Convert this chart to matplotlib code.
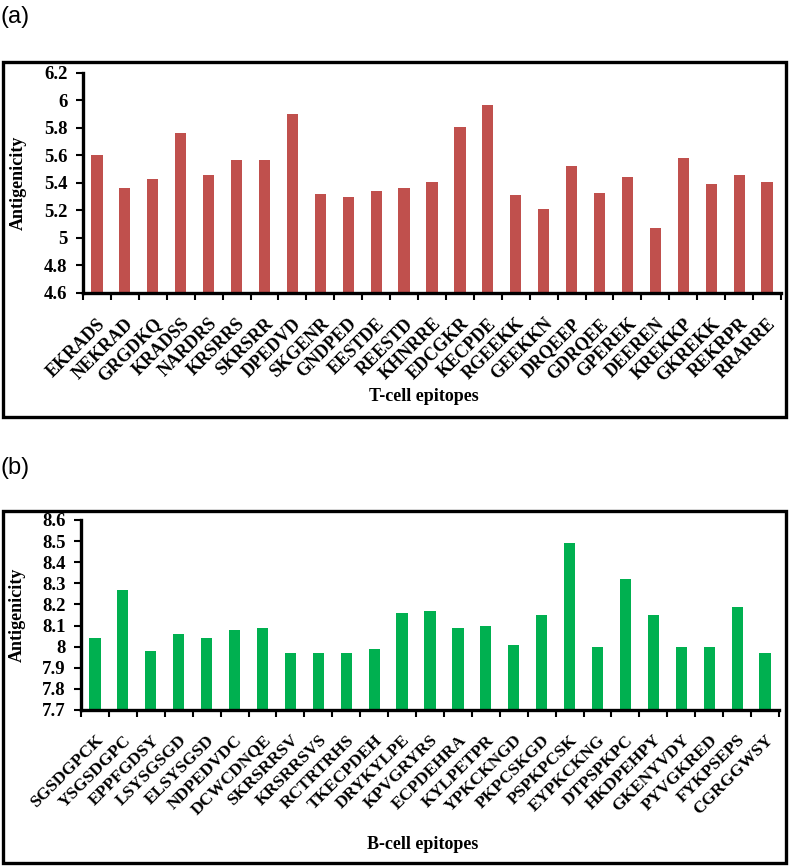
import numpy as np
import matplotlib.pyplot as plt
from matplotlib.patches import Rectangle

# T-cell epitopes (panel a)
t_epitopes = ["EKRADS", "NEKRAD", "GRGDKQ", "KRADSS", "NARDRS", "KRSRRS", "SKRSRR",
              "DPEDVD", "SKGENR", "GNDPED", "EESTDE", "REESTD", "KHNRRE", "EDCGKR",
              "KECPDE", "RGEEKK", "GEEKKN", "DRQEEP", "GDRQEE", "GPEREK", "DEEREN",
              "KREKKP", "GKREKK", "REKRPR", "RRARRE"]
t_values = [5.60, 5.36, 5.43, 5.76, 5.46, 5.57, 5.57, 5.90, 5.32, 5.30, 5.34, 5.36,
            5.41, 5.81, 5.97, 5.31, 5.21, 5.52, 5.33, 5.44, 5.07, 5.58, 5.39, 5.46, 5.41]

# B-cell epitopes (panel b)
b_epitopes = ["SGSDGPCK", "YSGSDGPC", "EPPFGDSY", "LSYSGSGD", "ELSYSGSD", "NDPEDVDC",
              "DCWCDNQE", "SKRSRRSV", "KRSRRSVS", "RCTRTRHS", "TKECPDEH", "DRYKYLPE",
              "KPVGRYRS", "ECPDEHRA", "KYLPETPR", "YPKCKNGD", "PKPCSKGD", "PSPKPCSK",
              "EYPKCKNG", "DTPSPKPC", "HKDPEHPY", "GKENYVDY", "PYVGKRED", "FYKPSEPS",
              "CGRGGWSY"]
b_values = [8.04, 8.27, 7.98, 8.06, 8.04, 8.08, 8.09, 7.97, 7.97, 7.97, 7.99, 8.16,
            8.17, 8.09, 8.10, 8.01, 8.15, 8.49, 8.00, 8.32, 8.15, 8.00, 8.00, 8.19, 7.97]

t_ticks = [4.6, 4.8, 5, 5.2, 5.4, 5.6, 5.8, 6, 6.2]
b_ticks = [7.7, 7.8, 7.9, 8, 8.1, 8.2, 8.3, 8.4, 8.5, 8.6]

SERIF = "Liberation Serif"
W, H = 790, 867

fig = plt.figure(figsize=(W / 100, H / 100), dpi=100)


def px_axes(left, top, right, bottom):
    return fig.add_axes([left / W, 1 - bottom / H, (right - left) / W, (bottom - top) / H])


def draw_panel(ax, names, values, ticks, color, xlabel, label_size, xlabel_y, ylabel_x):
    x = np.arange(len(names))
    ax.bar(x, np.array(values) - ticks[0], bottom=ticks[0], width=0.4, color=color)
    ax.set_xlim(-0.5, len(names) - 0.5)
    ax.set_ylim(ticks[0], ticks[-1])
    ax.set_yticks(ticks)
    ax.set_yticklabels([f"{t:g}" for t in ticks], fontfamily=SERIF, fontweight="bold", fontsize=13.5)
    ax.set_xticks(x)
    ax.set_xticklabels(names, rotation=45, ha="right", va="top", rotation_mode="anchor",
                       fontfamily=SERIF, fontweight="bold", fontsize=label_size)
    ax.set_xticks(np.arange(len(names) + 1) - 0.5, minor=True)
    ax.tick_params(axis="x", which="major", length=0, pad=16)
    ax.tick_params(axis="x", which="minor", length=5, width=1.5, direction="out")
    ax.tick_params(axis="y", length=5, width=1.5, direction="out", pad=6)
    for s in ["top", "right"]:
        ax.spines[s].set_visible(False)
    for s in ["left", "bottom"]:
        ax.spines[s].set_linewidth(2.4)
    ax.set_ylabel("Antigenicity", fontfamily=SERIF, fontweight="bold", fontsize=13)
    ax.yaxis.set_label_coords(ylabel_x, 0.5)
    ax.set_xlabel(xlabel, fontfamily=SERIF, fontweight="bold", fontsize=13)
    ax.xaxis.set_label_coords(0.489, xlabel_y)


ax_a = px_axes(83, 73, 781, 293)
draw_panel(ax_a, t_epitopes, t_values, t_ticks, "#C0504D", "T-cell epitopes", 13, -0.432, -0.081)

ax_b = px_axes(81, 520, 779, 710)
draw_panel(ax_b, b_epitopes, b_values, b_ticks, "#00B050", "B-cell epitopes", 12.5, -0.663, -0.079)

# outer frames around each panel
for top, bottom in [(62, 417), (511, 863)]:
    fig.patches.append(Rectangle((3 / W, 1 - bottom / H), 783 / W, (bottom - top) / H,
                                 transform=fig.transFigure, fill=False,
                                 edgecolor="black", linewidth=2.4))

fig.text(0.0, 1 - 17 / H, "(a)", fontfamily="Liberation Sans", fontsize=17, va="center", ha="left")
fig.text(0.0, 1 - 468 / H, "(b)", fontfamily="Liberation Sans", fontsize=17, va="center", ha="left")

fig.savefig("out.png", dpi=100)
